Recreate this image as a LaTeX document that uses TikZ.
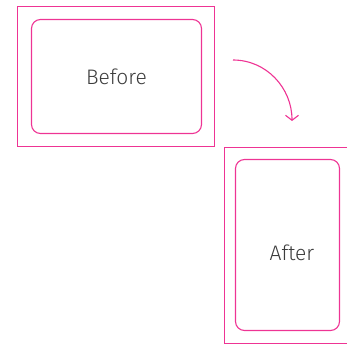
\documentclass[tikz,border=0pt]{standalone}
\usepackage{fontspec}
\setmainfont{Fira Sans}[UprightFont=* Light]
\usetikzlibrary{arrows.meta}
\definecolor{hotpink}{RGB}{238,52,148}
\definecolor{textgrey}{RGB}{60,60,60}

\begin{document}
\begin{tikzpicture}[x=1pt,y=1pt,>={Straight Barb[length=5pt,width=13pt]},
    frame/.style={draw=hotpink,line width=1pt,inner sep=0pt},
    card/.style={draw=hotpink,line width=1.1pt,rounded corners=9pt,inner sep=0pt},
    caption/.style={text=textgrey,font=\fontsize{21}{24}\selectfont,inner sep=0pt}]
  \useasboundingbox (0,0) rectangle (347,345);
  \clip (0,0) rectangle (347,345);
  			\node[frame] (beforeframe) [minimum width=197pt,minimum height=140pt] at (116,268.5) {};
  			\node[card]  (before) [minimum width=170pt,minimum height=114pt] at (116.5,268.5) {};
  			\node[caption] (beforelabel) at ([yshift=-0.5pt]before.center) {Before};
  			\node[frame] (afterframe) [minimum width=130pt,minimum height=196pt] at (289.5,99.5) {};
  			\node[card]  (after) [minimum width=104pt,minimum height=171pt] at (287.5,100) {};
  			\node[caption] (afterlabel) at ([xshift=4.5pt,yshift=-8pt]after.center) {After};

  			\coordinate (bend start) at (233,285);
  			\coordinate (bend end)   at (292,224);

  			\draw[->,hotpink,line width=1.1pt] (bend start) to[out=0,in=90] (bend end);
		\end{tikzpicture}
\end{document}
